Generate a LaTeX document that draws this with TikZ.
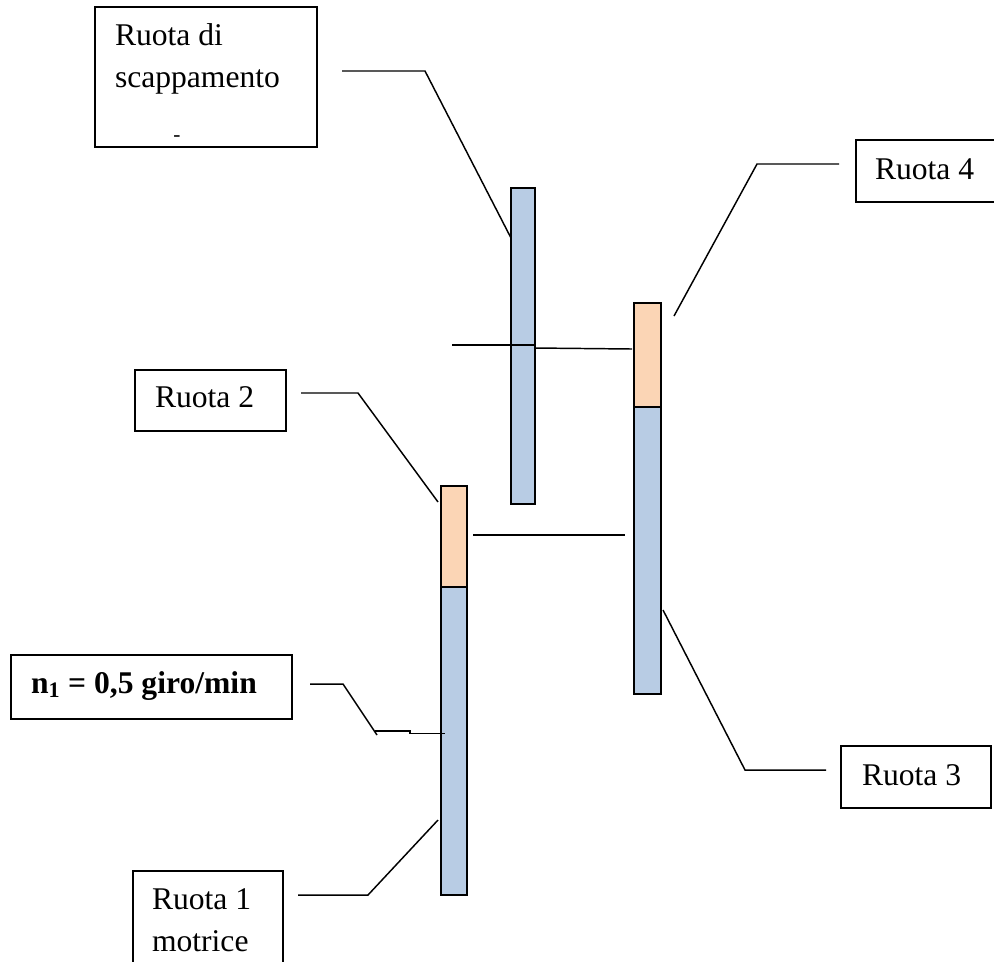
\documentclass[tikz,border=0pt]{standalone}
\usepackage{fontspec}
\setmainfont{Liberation Serif}
\definecolor{wheelblue}{HTML}{B8CCE4}
\definecolor{wheelorange}{HTML}{FBD5B5}
\tikzset{
  wire/.style={draw=black,line width=1.1pt,line join=miter},
  % #1 width, #2 height, #3 left padding, #4 text height, #5 text depth (all in px)
  tagbox/.style n args={5}{draw=black,line width=1.1pt,fill=white,rectangle,anchor=center,
    minimum width=#1*0.75pt,minimum height=#2*0.75pt,
    inner ysep=0pt,inner xsep=#3*0.75pt,text width=(#1-2*#3)*0.75pt,align=flush left,
    text height=#4*0.75pt,text depth=#5*0.75pt,
    font=\fontsize{23.7}{32.2}\selectfont},
  bar/.style n args={3}{draw=black,line width=1.1pt,rectangle,inner sep=0pt,anchor=center,
    minimum width=#1*0.75pt,minimum height=#2*0.75pt,fill=#3},
}
\begin{document}
\begin{tikzpicture}[x=0.75pt,y=-0.75pt]
\useasboundingbox (0,0) rectangle (994,961);
% wheels
\node[bar={24}{316}{wheelblue}] (escape) at (523,346) {};
\node[bar={27}{287}{wheelblue}] (w3) at (647.5,550.5) {};
\node[bar={27}{104}{wheelorange}] (w4) at (647.5,355) {};
\node[bar={26}{308}{wheelblue}] (w1) at (454,741) {};
\node[bar={26}{101}{wheelorange}] (w2) at (454,536.5) {};
% labels
\node[tagbox={222}{140}{20}{30}{94}] (tescape) at (206,77) {Ruota di\\scappamento};
\node[inner sep=0pt,font=\fontsize{16}{16}\selectfont] (tdash) at (177,139) {-};
\node[tagbox={150}{62}{19}{30}{14}] (t4) at (931,171) {Ruota 4};
\node[tagbox={151}{61}{20}{30}{17}] (t2) at (210.5,400.5) {Ruota 2};
\node[tagbox={150}{62}{21}{30}{14}] (t3) at (916,777) {Ruota 3};
\node[tagbox={281}{64}{20}{30}{18}] (tn) at (151.5,687) {\textbf{n\textsubscript{1} = 0,5 giro/min}};
\node[tagbox={150}{104}{19}{30}{58}] (t1) at (208,923) {Ruota 1\\motrice};
% connector ends and bends
\coordinate (a0) at (342,71); \coordinate (a1) at (425,71); \coordinate (a2) at (511,238);
\coordinate (b0) at (839,164); \coordinate (b1) at (757,164); \coordinate (b2) at (674,316);
\coordinate (c0) at (301,393); \coordinate (c1) at (358,393); \coordinate (c2) at (438,502);
\coordinate (d0) at (310,684); \coordinate (d1) at (343,684); \coordinate (d2) at (377,735);
\coordinate (d3) at (375,731); \coordinate (d4) at (410,731); \coordinate (d5) at (410,733.5); \coordinate (d6) at (445,733.5);
\coordinate (e0) at (298,895); \coordinate (e1) at (368,895); \coordinate (e2) at (438,820);
\coordinate (f0) at (826,770); \coordinate (f1) at (745,770); \coordinate (f2) at (663,610);
\coordinate (g0) at (452,345); \coordinate (g1) at (535,345);
\coordinate (h0) at (535,348); \coordinate (h1) at (632,349);
\coordinate (i0) at (473,535); \coordinate (i1) at (625,535);
% connectors
\draw[wire] (a0) -- (a1) -- (a2);
\draw[wire] (b0) -- (b1) -- (b2);
\draw[wire] (c0) -- (c1) -- (c2);
\draw[wire] (d0) -- (d1) -- (d2);
\draw[wire] (d3) -- (d4) -- (d5) -- (d6);
\draw[wire] (e0) -- (e1) -- (e2);
\draw[wire] (f0) -- (f1) -- (f2);
\draw[wire] (g0) -- (g1);
\draw[wire] (h0) -- (h1);
\draw[wire] (i0) -- (i1);
\end{tikzpicture}
\end{document}
